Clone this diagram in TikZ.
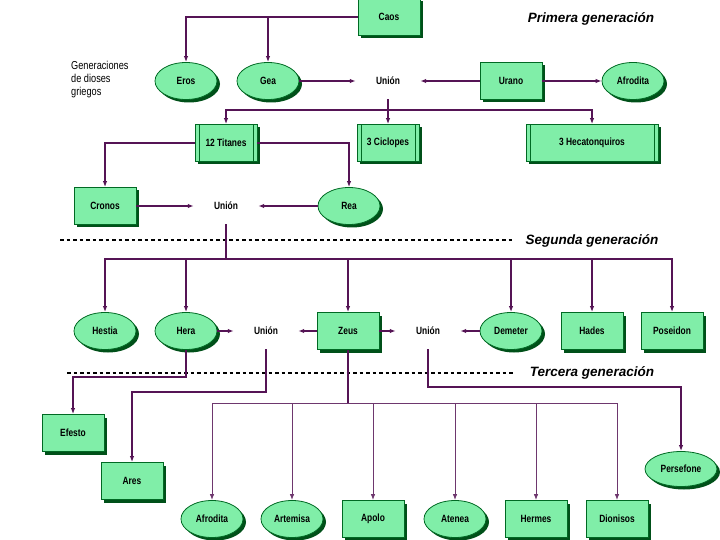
\documentclass[tikz,border=0pt]{standalone}
\usepackage{fontspec}
\setmainfont{Liberation Sans}
\newfontfamily\narrowfamily[FakeStretch=0.8]{Liberation Sans}
\usepackage{tikz}
\usetikzlibrary{shapes}
\usetikzlibrary{positioning}
\usetikzlibrary{arrows.meta}
\usetikzlibrary{shadows}
\definecolor{mint}{RGB}{128,238,168}
\definecolor{leafgreen}{RGB}{0,105,35}
\definecolor{shadegreen}{RGB}{0,80,25}
\definecolor{plum}{RGB}{85,20,85}
\newcommand{\godfont}{\narrowfamily\bfseries\fontsize{10.5}{12}\selectfont}
\newcommand{\headfont}{\bfseries\itshape\fontsize{13.5}{15}\selectfont}
\newcommand{\notefont}{\narrowfamily\fontsize{11.5}{13}\selectfont}
\tikzset{>={Latex[length=6pt,width=4.5pt]}, % Small filled arrow heads
    link/.style={draw=plum, line width=1.6pt},
    thinlink/.style={draw=plum!85, line width=0.9pt},
    divider/.style={draw=black, line width=1.2pt, dash pattern=on 3.5pt off 3pt}}

\begin{document}
\begin{tikzpicture}[
            x=1pt, y=-1pt,
            box/.style={rectangle, draw=leafgreen, line width=0.8pt, fill=mint, minimum width=62pt, minimum height=37pt, font=\godfont,
                drop shadow={shadow xshift=3pt, shadow yshift=-3pt, fill=shadegreen, opacity=1}},
            oval/.style={box, ellipse},
            group/.style={box, path picture={
                \draw[leafgreen, line width=0.8pt] ([xshift=4pt]path picture bounding box.north west) -- ([xshift=4pt]path picture bounding box.south west);
                \draw[leafgreen, line width=0.8pt] ([xshift=-4pt]path picture bounding box.north east) -- ([xshift=-4pt]path picture bounding box.south east);}},
            union/.style={minimum width=64pt, minimum height=36pt, font=\godfont},
            gen/.style={font=\headfont}
        ]
        \useasboundingbox (0,0) rectangle (720,540);

        % Headings
        \node[gen] (primera) at (591,19) {Primera generación};
        \node[gen] (segunda) at (592,241) {Segunda generación};
        \node[gen] (tercera) at (592,373) {Tercera generación};
        \node[font=\notefont, align=left, anchor=west, inner sep=1pt] (title) at (70,80) {Generaciones\\de dioses\\griegos};

        % Dividers
        \draw[divider] (60,240) -- (515,240);
        \draw[divider] (67,373) -- (515,373);

        % First generation
        \node[box] (caos) at (389,17) {Caos};
        \node[oval] (eros) at (186,81) {Eros};
        \node[oval] (gea) at (268,81) {Gea};
        \node[union] (u1) at (388,81) {Unión};
        \node[box] (urano) at (511,81) {Urano};
        \node[oval] (afrodita1) at (633,81) {Afrodita};

        % Children of Gea and Urano
        \node[group] (titanes) at (226,143) {12 Titanes};
        \node[group] (ciclopes) at (388,143) {3 Ciclopes};
        \node[group, minimum width=132pt] (hecaton) at (592,143) {3 Hecatonquiros};

        % Cronos and Rea
        \node[box] (cronos) at (105,206) {Cronos};
        \node[union] (u2) at (226,206) {Unión};
        \node[oval] (rea) at (349,206) {Rea};

        % Second generation
        \node[oval] (hestia) at (105,331) {Hestia};
        \node[oval] (hera) at (186,331) {Hera};
        \node[union] (u3) at (266,331) {Unión};
        \node[box] (zeus) at (348,331) {Zeus};
        \node[union] (u4) at (428,331) {Unión};
        \node[oval] (demeter) at (511,331) {Demeter};
        \node[box] (hades) at (592,331) {Hades};
        \node[box] (poseidon) at (672,331) {Poseidon};

        % Third generation
        \node[box] (efesto) at (73,433) {Efesto};
        \node[box] (ares) at (132,481) {Ares};
        \node[oval, minimum width=72pt, minimum height=35pt] (persefone) at (681,469) {Persefone};
        \node[oval] (afrodita2) at (212,519) {Afrodita};
        \node[oval] (artemisa) at (292,519) {Artemisa};
        \node[box] (apolo) at (373,519) {Apolo};
        \node[oval] (atenea) at (455,519) {Atenea};
        \node[box] (hermes) at (536,519) {Hermes};
        \node[box] (dionisos) at (617,519) {Dionisos};

        % Connections
        % Caos
        \draw[link, ->] (caos.west) -| (eros);
        \draw[link, ->] (gea |- caos.west) -- (gea);

        % Unions of the first generation
        \draw[link, ->] (gea) -- (u1);
        \draw[link, ->] (urano) -- (u1);
        \draw[link, ->] (urano) -- (afrodita1);
        \coordinate (g1) at (388,110);
        \draw[link, ->] (u1) -- (ciclopes);
        \draw[link, ->] (g1) -| (titanes);
        \draw[link, ->] (g1) -| (hecaton);

        % Titanes
        \draw[link, ->] (titanes.west) -| (cronos);
        \draw[link, ->] (titanes.east) -| (rea);
        \draw[link, ->] (cronos) -- (u2);
        \draw[link, ->] (rea) -- (u2);

        % Children of Cronos and Rea
        \coordinate (g2) at (226,259);
        \draw[link] (u2) -- (g2);
        \draw[link, ->] (g2) -| (hestia);
        \draw[link, ->] (g2) -| (poseidon);
        \draw[link, ->] (hera |- g2) -- (hera);
        \draw[link, ->] (zeus |- g2) -- (zeus);
        \draw[link, ->] (demeter |- g2) -- (demeter);
        \draw[link, ->] (hades |- g2) -- (hades);

        % Unions of the second generation
        \draw[link, ->] (hera) -- (u3);
        \draw[link, ->] (zeus) -- (u3);
        \draw[link, ->] (zeus) -- (u4);
        \draw[link, ->] (demeter) -- (u4);
        \draw[link, ->] (hera.south) -- ++(0,27) -| (efesto);
        \draw[link, ->] (u3.south) -- ++(0,43) -| (ares);
        \draw[link, ->] (u4.south) -- ++(0,38) -| (persefone);

        % Children of Zeus
        \coordinate (g3) at (348,403);
        \draw[link] (zeus) -- (g3);
        \draw[thinlink, ->] (g3) -| (afrodita2);
        \draw[thinlink, ->] (g3) -| (dionisos);
        \draw[thinlink, ->] (artemisa |- g3) -- (artemisa);
        \draw[thinlink, ->] (apolo |- g3) -- (apolo);
        \draw[thinlink, ->] (atenea |- g3) -- (atenea);
        \draw[thinlink, ->] (hermes |- g3) -- (hermes);

    \end{tikzpicture}
\end{document}
